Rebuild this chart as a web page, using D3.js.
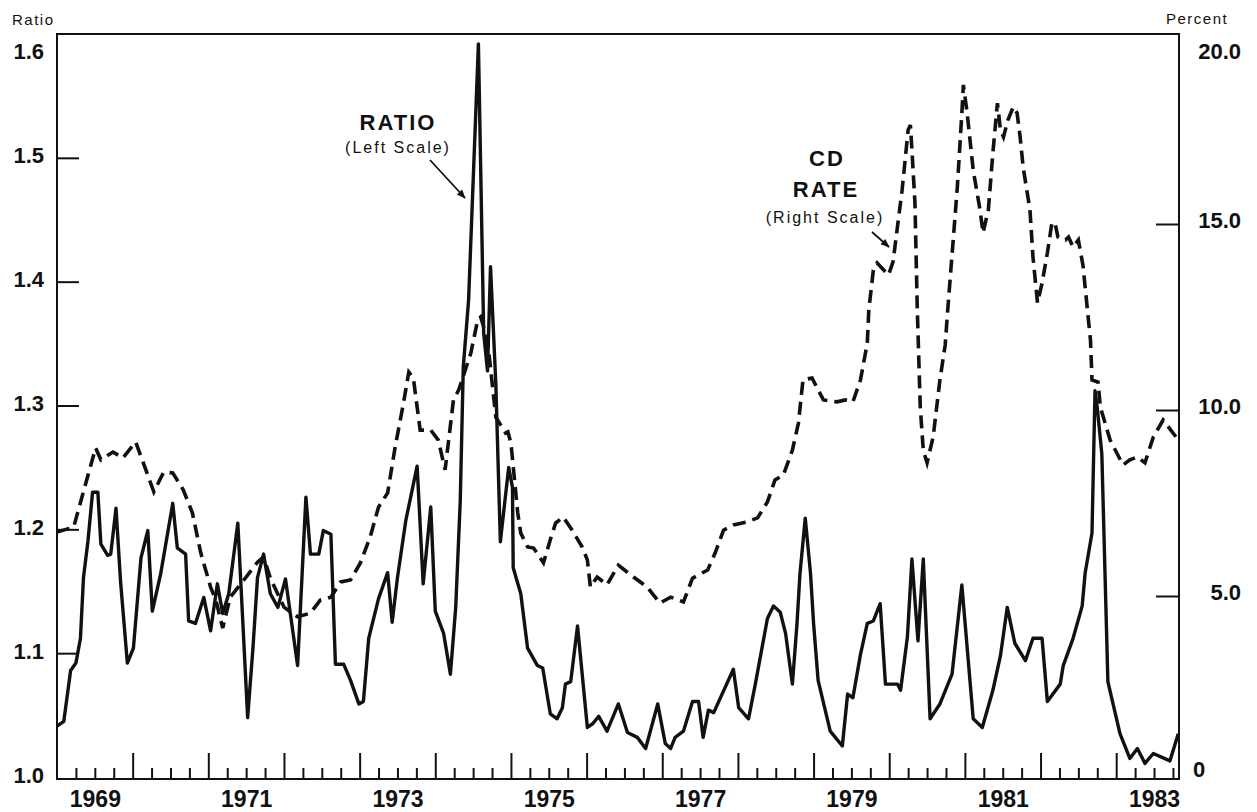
<!DOCTYPE html>
<html>
<head>
<meta charset="utf-8">
<script src="https://cdn.jsdelivr.net/npm/d3@7"></script>
<style>
    body { margin: 0; background: #fff; }
    svg { display: block; font-family: "Liberation Sans", Arial, Helvetica, sans-serif; }
    .axis path.domain { display: none; }
    .axis line { stroke: #111; stroke-width: 2px; }
    .axis text { fill: #111; font-weight: bold; font-size: 22px; }
    .year-axis text { font-size: 23px; }
    .unit { font-size: 15px; fill: #111; letter-spacing: 1.5px; }
    .note-big { font-size: 22px; font-weight: bold; fill: #111; letter-spacing: 2px; }
    .note-small { font-size: 16px; fill: #111; letter-spacing: 2px; }
</style>
</head>
<body>
<svg id="chart" width="1257" height="812"></svg>
<script>
// ratio (left scale)
const ratioYears = [
    1969.00, 1969.09, 1969.18, 1969.25, 1969.31, 1969.35, 1969.41, 1969.47, 1969.54, 1969.58,
    1969.67, 1969.71, 1969.78, 1969.84, 1969.93, 1970.01, 1970.11, 1970.20, 1970.26, 1970.37,
    1970.53, 1970.59, 1970.70, 1970.74, 1970.83, 1970.94, 1971.03, 1971.12, 1971.19, 1971.27,
    1971.39, 1971.52, 1971.59, 1971.65, 1971.73, 1971.82, 1971.92, 1972.02, 1972.18, 1972.29,
    1972.35, 1972.46, 1972.52, 1972.62, 1972.68, 1972.79, 1972.88, 1972.99, 1973.05, 1973.12,
    1973.25, 1973.37, 1973.43, 1973.50, 1973.61, 1973.76, 1973.84, 1973.94, 1974.00, 1974.11,
    1974.20, 1974.27, 1974.33, 1974.37, 1974.44, 1974.57, 1974.64, 1974.69, 1974.73, 1974.80,
    1974.86, 1974.97, 1975.02, 1975.03, 1975.13, 1975.22, 1975.35, 1975.42, 1975.52, 1975.61,
    1975.68, 1975.72, 1975.79, 1975.88, 1976.01, 1976.08, 1976.16, 1976.27, 1976.42, 1976.54,
    1976.67, 1976.78, 1976.94, 1977.04, 1977.11, 1977.17, 1977.28, 1977.40, 1977.48, 1977.54,
    1977.61, 1977.68, 1977.94, 1978.01, 1978.14, 1978.23, 1978.39, 1978.47, 1978.56, 1978.63,
    1978.72, 1978.78, 1978.82, 1978.89, 1978.96, 1979.00, 1979.06, 1979.22, 1979.38, 1979.45,
    1979.52, 1979.62, 1979.71, 1979.79, 1979.88, 1979.95, 1980.11, 1980.15, 1980.24, 1980.30,
    1980.38, 1980.45, 1980.54, 1980.67, 1980.83, 1980.96, 1981.11, 1981.23, 1981.37, 1981.47,
    1981.56, 1981.66, 1981.80, 1981.90, 1982.02, 1982.09, 1982.26, 1982.30, 1982.43, 1982.55,
    1982.59, 1982.68, 1982.72, 1982.75, 1982.81, 1982.89, 1983.05, 1983.18, 1983.28, 1983.38,
    1983.49, 1983.71, 1983.82
];
const ratioValues = [
    1.041, 1.045, 1.086, 1.092, 1.112, 1.161, 1.191, 1.230, 1.230, 1.188,
    1.179, 1.180, 1.217, 1.158, 1.092, 1.104, 1.177, 1.199, 1.134, 1.164,
    1.221, 1.185, 1.180, 1.126, 1.124, 1.145, 1.118, 1.156, 1.132, 1.148,
    1.205, 1.048, 1.104, 1.161, 1.180, 1.148, 1.137, 1.160, 1.090, 1.226,
    1.180, 1.180, 1.199, 1.196, 1.091, 1.091, 1.078, 1.059, 1.061, 1.112,
    1.144, 1.165, 1.125, 1.161, 1.207, 1.251, 1.156, 1.218, 1.134, 1.116,
    1.083, 1.137, 1.223, 1.331, 1.385, 1.592, 1.358, 1.328, 1.412, 1.318,
    1.190, 1.250, 1.234, 1.169, 1.148, 1.104, 1.090, 1.088, 1.051, 1.047,
    1.056, 1.075, 1.077, 1.122, 1.040, 1.043, 1.049, 1.037, 1.059, 1.036,
    1.032, 1.023, 1.059, 1.027, 1.023, 1.032, 1.037, 1.061, 1.061, 1.032,
    1.054, 1.052, 1.087, 1.056, 1.047, 1.075, 1.128, 1.138, 1.133, 1.116,
    1.075, 1.123, 1.164, 1.209, 1.164, 1.124, 1.078, 1.037, 1.025, 1.067,
    1.064, 1.099, 1.124, 1.126, 1.140, 1.075, 1.075, 1.070, 1.113, 1.176,
    1.110, 1.176, 1.047, 1.059, 1.083, 1.155, 1.047, 1.040, 1.070, 1.098,
    1.137, 1.108, 1.094, 1.112, 1.112, 1.061, 1.075, 1.090, 1.112, 1.138,
    1.165, 1.197, 1.312, 1.298, 1.261, 1.077, 1.035, 1.015, 1.023, 1.011,
    1.019, 1.013, 1.035
];

// CD rate, percent (right scale)
const cdYears = [
    1969.00, 1969.22, 1969.51, 1969.58, 1969.74, 1969.87, 1970.04, 1970.28, 1970.41, 1970.53,
    1970.67, 1970.79, 1970.90, 1971.03, 1971.10, 1971.19, 1971.29, 1971.47, 1971.65, 1971.73,
    1971.82, 1972.00, 1972.18, 1972.35, 1972.48, 1972.62, 1972.75, 1972.88, 1973.01, 1973.14,
    1973.25, 1973.37, 1973.47, 1973.58, 1973.65, 1973.71, 1973.80, 1973.94, 1974.04, 1974.13,
    1974.24, 1974.31, 1974.47, 1974.56, 1974.60, 1974.69, 1974.80, 1974.93, 1974.96, 1975.00,
    1975.09, 1975.13, 1975.22, 1975.30, 1975.43, 1975.52, 1975.59, 1975.69, 1975.81, 1975.94,
    1976.01, 1976.05, 1976.14, 1976.27, 1976.42, 1976.62, 1976.80, 1976.97, 1977.11, 1977.28,
    1977.40, 1977.60, 1977.70, 1977.81, 1977.94, 1978.12, 1978.26, 1978.39, 1978.49, 1978.60,
    1978.72, 1978.80, 1978.86, 1978.98, 1979.06, 1979.13, 1979.31, 1979.42, 1979.52, 1979.62,
    1979.71, 1979.73, 1979.79, 1979.84, 1979.99, 1980.05, 1980.17, 1980.25, 1980.28, 1980.30,
    1980.34, 1980.37, 1980.41, 1980.45, 1980.50, 1980.58, 1980.67, 1980.74, 1980.77, 1980.90,
    1980.96, 1980.98, 1981.03, 1981.11, 1981.20, 1981.24, 1981.31, 1981.37, 1981.43, 1981.47,
    1981.51, 1981.57, 1981.64, 1981.69, 1981.73, 1981.77, 1981.86, 1981.90, 1981.96, 1982.02,
    1982.09, 1982.15, 1982.19, 1982.23, 1982.33, 1982.37, 1982.43, 1982.50, 1982.56, 1982.66,
    1982.68, 1982.76, 1982.79, 1982.92, 1983.09, 1983.18, 1983.28, 1983.38, 1983.49, 1983.62,
    1983.80
];
const cdRates = [
    6.72, 6.85, 8.98, 8.66, 8.87, 8.71, 9.14, 7.80, 8.33, 8.31,
    7.85, 7.23, 6.16, 5.24, 4.89, 4.14, 4.97, 5.43, 5.91, 6.05,
    5.48, 4.70, 4.44, 4.54, 4.89, 4.97, 5.38, 5.43, 5.89, 6.59,
    7.39, 7.77, 9.01, 10.19, 11.02, 10.86, 9.46, 9.46, 9.19, 8.39,
    10.27, 10.54, 11.53, 12.42, 12.50, 11.88, 9.81, 9.38, 9.41, 9.11,
    7.23, 6.69, 6.32, 6.29, 5.89, 6.51, 6.96, 7.12, 6.77, 6.32,
    5.97, 5.24, 5.51, 5.30, 5.83, 5.51, 5.24, 4.81, 4.97, 4.84,
    5.48, 5.70, 6.16, 6.77, 6.91, 6.99, 7.10, 7.53, 8.12, 8.25,
    8.92, 9.65, 10.81, 10.86, 10.54, 10.27, 10.22, 10.27, 10.22, 10.81,
    11.80, 12.69, 13.76, 13.95, 13.63, 13.98, 15.91, 17.53, 17.66, 16.99,
    15.56, 12.77, 10.08, 8.92, 8.58, 9.27, 10.81, 11.75, 12.61, 15.99,
    17.98, 18.74, 17.98, 16.45, 15.38, 14.76, 15.38, 16.91, 18.25, 17.53,
    17.34, 17.80, 18.15, 17.98, 17.34, 16.53, 15.38, 14.11, 12.88, 13.41,
    14.22, 15.03, 15.03, 14.65, 14.57, 14.65, 14.38, 14.57, 13.90, 11.88,
    10.81, 10.75, 10.08, 9.19, 8.52, 8.66, 8.74, 8.58, 9.27, 9.73,
    9.25
];

const leftTicks = [1.0, 1.1, 1.2, 1.3, 1.4, 1.5, 1.6];
const rightTicks = [0, 5, 10, 15, 20];
const yearLabels = [1969, 1971, 1973, 1975, 1977, 1979, 1981, 1983];

const plotL = 57, plotR = 1179, plotT = 34, plotB = 779;

const x = d3.scaleLinear().domain([1969, 1983.83]).range([plotL, plotR]);
const yL = d3.scaleLinear().domain([1.0, 1.6]).range([777, 34]);
const yR = d3.scaleLinear().domain([0, 20]).range([782, 38]);

const svg = d3.select('#chart');

svg.append('rect').attr('width', 1257).attr('height', 812).attr('fill', '#fff');

// quarter ticks and year ticks on the bottom
const quarters = d3.range(1, 60).map((i) => 1969 + i * 0.25);
svg.append('g')
    .attr('class', 'axis')
    .attr('transform', `translate(0,${plotB})`)
    .call(d3.axisBottom(x).tickValues(quarters.filter((q) => q % 1 !== 0)).tickSize(-11).tickFormat(''));
svg.append('g')
    .attr('class', 'axis')
    .attr('transform', `translate(0,${plotB})`)
    .call(d3.axisBottom(x).tickValues(d3.range(1970, 1984)).tickSize(-26).tickFormat(''));

const yearAxis = svg.append('g')
    .attr('class', 'axis year-axis')
    .attr('transform', `translate(0,${plotB})`)
    .call(d3.axisBottom(x).tickValues(yearLabels.map((d) => d + 0.5)).tickSize(0).tickFormat((d) => Math.floor(d)));
yearAxis.selectAll('text').attr('y', 28).attr('dy', 0);

// left scale
const leftAxis = svg.append('g')
    .attr('class', 'axis')
    .attr('transform', `translate(${plotL},0)`)
    .call(d3.axisLeft(yL).tickValues(leftTicks).tickSize(-22).tickFormat(d3.format('.1f')));
leftAxis.selectAll('.tick').filter((d) => d === 1.0 || d === 1.6).select('line').remove();
leftAxis.selectAll('text').attr('x', -13).attr('dy', 0).attr('y', (d) => (d === 1.6 ? 24 : 5));

// right scale
const rightAxis = svg.append('g')
    .attr('class', 'axis')
    .attr('transform', `translate(${plotR},0)`)
    .call(d3.axisRight(yR).tickValues(rightTicks).tickSize(-23).tickFormat((d) => (d === 0 ? '0' : d3.format('.1f')(d))));
rightAxis.selectAll('.tick').filter((d) => d === 0 || d === 20).select('line').remove();
rightAxis.selectAll('text')
    .attr('text-anchor', (d) => (d === 0 ? 'middle' : 'end'))
    .attr('x', (d) => (d === 0 ? 20 : 62))
    .attr('dy', 0)
    .attr('y', (d) => (d === 0 ? -6 : d === 20 ? 20 : 3));

// frame
svg.append('rect')
    .attr('x', plotL).attr('y', plotT)
    .attr('width', plotR - plotL).attr('height', plotB - plotT)
    .attr('fill', 'none').attr('stroke', '#111').attr('stroke-width', 2);

svg.append('text').attr('class', 'unit').attr('x', 12).attr('y', 25).text('Ratio');
svg.append('text').attr('class', 'unit').attr('x', 1166).attr('y', 24).text('Percent');

// the two series
const ratioData = ratioYears.map((d, i) => [d, ratioValues[i]]);
const cdData = cdYears.map((d, i) => [d, cdRates[i]]);

svg.append('path')
    .datum(cdData)
    .attr('fill', 'none')
    .attr('stroke', '#111')
    .attr('stroke-width', 3.6)
    .attr('stroke-dasharray', '13,7')
    .attr('d', d3.line().x((d) => x(d[0])).y((d) => yR(d[1])));

svg.append('path')
    .datum(ratioData)
    .attr('fill', 'none')
    .attr('stroke', '#111')
    .attr('stroke-width', 3.4)
    .attr('stroke-linejoin', 'round')
    .attr('d', d3.line().x((d) => x(d[0])).y((d) => yL(d[1])));

// notes with arrows
svg.append('defs').append('marker')
    .attr('id', 'head')
    .attr('viewBox', '0 0 10 10')
    .attr('refX', 9).attr('refY', 5)
    .attr('markerWidth', 7).attr('markerHeight', 5)
    .attr('orient', 'auto')
    .append('path').attr('d', 'M0,1L10,5L0,9z').attr('fill', '#111');

svg.append('text').attr('class', 'note-big').attr('text-anchor', 'middle').attr('x', 398).attr('y', 130).text('RATIO');
svg.append('text').attr('class', 'note-small').attr('text-anchor', 'middle').attr('x', 398).attr('y', 153).text('(Left Scale)');
svg.append('line')
    .attr('x1', 430).attr('y1', 160).attr('x2', 465).attr('y2', 198)
    .attr('stroke', '#111').attr('stroke-width', 1.8).attr('marker-end', 'url(#head)');

svg.append('text').attr('class', 'note-big').attr('text-anchor', 'middle').attr('x', 827).attr('y', 166).text('CD');
svg.append('text').attr('class', 'note-big').attr('text-anchor', 'middle').attr('x', 826).attr('y', 197).text('RATE');
svg.append('text').attr('class', 'note-small').attr('text-anchor', 'middle').attr('x', 825).attr('y', 223).text('(Right Scale)');
svg.append('line')
    .attr('x1', 872).attr('y1', 232).attr('x2', 889).attr('y2', 247)
    .attr('stroke', '#111').attr('stroke-width', 1.8).attr('marker-end', 'url(#head)');
</script>
</body>
</html>
